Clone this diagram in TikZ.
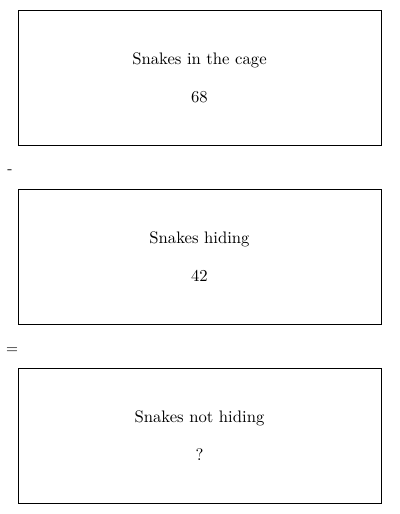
\documentclass[tikz,border=0pt]{standalone}
\usetikzlibrary{positioning}
\tikzset{
  qbox/.style={draw,line width=0.6pt,minimum width=217.8pt,minimum height=81pt,
    inner sep=0pt,outer sep=0pt,align=center},
  sign/.style={inner sep=0pt,font=\small}
}
\begin{document}
\begin{tikzpicture}
    \useasboundingbox (0,0) rectangle (240pt,-308.4pt);
    \node[qbox] (cage) at (119.7pt,-46.5pt) {Snakes in the cage\\[11pt]68};
    \node[qbox,below=26.4pt of cage] (hiding) {Snakes hiding\\[11pt]42};
    \node[qbox,below=26.4pt of hiding] (nothiding) {Snakes not hiding\\[11pt]?};
    \node[sign] (minus) at (6pt,-103.2pt) {-};
    \node[sign] (equals) at (7.2pt,-210.4pt) {=};
\end{tikzpicture}
\end{document}
